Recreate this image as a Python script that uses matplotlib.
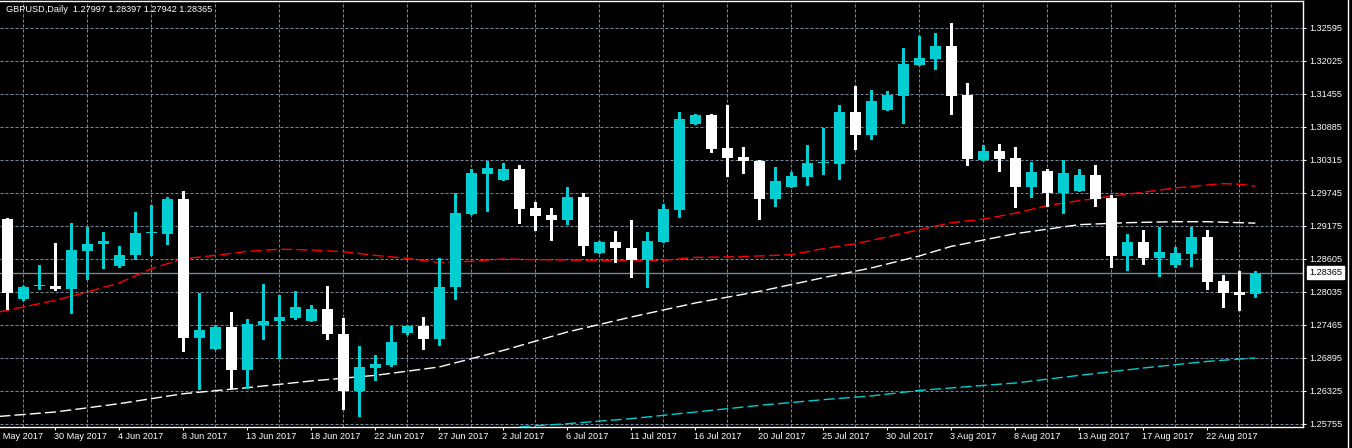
import matplotlib
matplotlib.use("Agg")
from matplotlib import pyplot as plt
from matplotlib.lines import Line2D
import matplotlib.transforms as mtransforms
import numpy as np
import pandas as pd

plt.rcParams['font.family'] = ['Liberation Sans', 'DejaVu Sans']
plt.rcParams['lines.scale_dashes'] = False

# GBPUSD daily bars, 26 May - 25 Aug 2017 (Sunday bars included, no Saturdays)
days = pd.date_range('2017-05-26', '2017-08-25')
dates = [d for d in days if d.dayofweek != 5]

opens = [1.29301, 1.27919, 1.28135, 1.28144, 1.28080, 1.28748, 1.28857, 1.28477, 1.28667, 1.29051,
         1.29042, 1.29647, 1.27246, 1.27056, 1.27436, 1.26681, 1.27470, 1.27527, 1.27591, 1.27539,
         1.27747, 1.27315, 1.26318, 1.26728, 1.26779, 1.27332, 1.27453, 1.27229, 1.28127, 1.29388,
         1.30079, 1.29975, 1.30165, 1.29491, 1.29370, 1.29284, 1.29681, 1.28714, 1.28904, 1.28800,
         1.28581, 1.28904, 1.29457, 1.30942, 1.31098, 1.30528, 1.30372, 1.30303, 1.29647, 1.29854,
         1.30027, 1.30262, 1.30251, 1.31149, 1.30752, 1.31184, 1.31426, 1.31961, 1.32065, 1.32289,
         1.31443, 1.30320, 1.30476, 1.30355, 1.29854, 1.30130, 1.29750, 1.29785, 1.30061, 1.29664,
         1.28662, 1.28904, 1.28628, 1.28507, 1.28697, 1.28990, 1.28230, 1.28040, 1.27997]
highs = [1.29319, 1.28144, 1.28507, 1.28887, 1.29232, 1.29158, 1.29077, 1.28823, 1.29422, 1.29538,
         1.29676, 1.29785, 1.28023, 1.27458, 1.27695, 1.27562, 1.28179, 1.27989, 1.28058, 1.27804,
         1.28144, 1.27591, 1.27108, 1.26940, 1.27453, 1.27462, 1.27609, 1.28628, 1.29745, 1.30160,
         1.30298, 1.30268, 1.30234, 1.29595, 1.29491, 1.29854, 1.29745, 1.28913, 1.29094, 1.29284,
         1.29077, 1.29560, 1.31149, 1.31106, 1.31115, 1.31270, 1.30545, 1.30320, 1.30199, 1.30113,
         1.30579, 1.30873, 1.31270, 1.31599, 1.31529, 1.31512, 1.32255, 1.32462, 1.32514, 1.32687,
         1.31650, 1.30579, 1.30597, 1.30545, 1.30286, 1.30165, 1.30320, 1.30165, 1.30234, 1.29716,
         1.29042, 1.29111, 1.29163, 1.28818, 1.29163, 1.29111, 1.28334, 1.28398, 1.28397]
lows = [1.27747, 1.27902, 1.28080, 1.28066, 1.27678, 1.28253, 1.28455, 1.28467, 1.28610, 1.28667,
        1.28869, 1.27009, 1.26353, 1.27047, 1.26382, 1.26382, 1.27229, 1.26900, 1.27574, 1.27531,
        1.27229, 1.26019, 1.25886, 1.26508, 1.26750, 1.27303, 1.27056, 1.27113, 1.27919, 1.29379,
        1.29439, 1.29966, 1.29232, 1.29111, 1.28926, 1.29215, 1.28667, 1.28705, 1.28546, 1.28287,
        1.28115, 1.28895, 1.29336, 1.30934, 1.30459, 1.30044, 1.30096, 1.29301, 1.29526, 1.29845,
        1.29889, 1.30079, 1.29992, 1.30510, 1.30683, 1.31175, 1.30959, 1.31953, 1.31892, 1.31115,
        1.30234, 1.30312, 1.30130, 1.29508, 1.29681, 1.29526, 1.29405, 1.29776, 1.29526, 1.28467,
        1.28408, 1.28524, 1.28305, 1.28467, 1.28489, 1.28092, 1.27781, 1.27729, 1.27942]
closes = [1.28023, 1.28127, 1.28144, 1.28080, 1.28766, 1.28869, 1.28909, 1.28679, 1.29059, 1.29068,
          1.29647, 1.27246, 1.27384, 1.27436, 1.26681, 1.27488, 1.27539, 1.27609, 1.27781, 1.27747,
          1.27303, 1.26318, 1.26745, 1.26797, 1.27177, 1.27453, 1.27229, 1.28127, 1.29405, 1.30096,
          1.30182, 1.30165, 1.29474, 1.29353, 1.29284, 1.29681, 1.28823, 1.28904, 1.28800, 1.28581,
          1.28921, 1.29474, 1.31029, 1.31098, 1.30510, 1.30355, 1.30303, 1.29647, 1.29958, 1.30044,
          1.30268, 1.30270, 1.31149, 1.30752, 1.31339, 1.31443, 1.31979, 1.32082, 1.32289, 1.31426,
          1.30338, 1.30476, 1.30338, 1.29854, 1.30113, 1.29750, 1.30096, 1.30061, 1.29647, 1.28662,
          1.28904, 1.28628, 1.28731, 1.28714, 1.28990, 1.28213, 1.28023, 1.27989, 1.28365]

# moving averages, read at a few bars
ma_red_x = [-0.5, 3, 5, 7, 9, 11, 13, 15, 17, 19, 21, 23, 25, 27, 29, 31, 33, 35, 37, 39,
            41, 43, 45, 47, 49, 51, 53, 54, 57, 59, 61, 63, 65, 67, 69, 71, 73, 75, 76, 77, 78]
ma_red = [1.27690, 1.27890, 1.28035, 1.28191, 1.28437, 1.28610, 1.28667, 1.28736, 1.28774, 1.28761,
          1.28731, 1.28667, 1.28615, 1.28541, 1.28564, 1.28605, 1.28593, 1.28588, 1.28576, 1.28571,
          1.28581, 1.28633, 1.28640, 1.28657, 1.28679, 1.28783, 1.28869, 1.28926, 1.29111, 1.29232,
          1.29293, 1.29396, 1.29526, 1.29612, 1.29690, 1.29759, 1.29832, 1.29883, 1.29906, 1.29897,
          1.29863]
ma_white_x = [-0.5, 3, 7, 11, 15, 19, 23, 27, 31, 35, 39, 43, 47, 51, 54, 57, 59, 63, 67, 70,
              73, 75, 77, 78]
ma_white = [1.25886, 1.25962, 1.26106, 1.26278, 1.26382, 1.26498, 1.26595, 1.26740, 1.27026, 1.27344,
            1.27603, 1.27845, 1.28045, 1.28282, 1.28450, 1.28657, 1.28823, 1.29042, 1.29198, 1.29232,
            1.29249, 1.29249, 1.29232, 1.29224]
ma_cyan_x = [32, 35, 39, 43, 47, 51, 54, 57, 63, 67, 71, 75, 78]
ma_cyan = [1.25705, 1.25760, 1.25847, 1.25962, 1.26076, 1.26175, 1.26239, 1.26335, 1.26463, 1.26595,
           1.26722, 1.26836, 1.26895]

price_ticks = [1.25755 + 0.0057 * k for k in range(13)]
last_price = 1.28365
title = "GBPUSD,Daily  1.27997 1.28397 1.27942 1.28365"

BULL = '#00CED1'
BEAR = '#FFFFFF'
GRID = '#778899'
FS = 6.6

W, H = 1352, 448
fig = plt.figure(figsize=(W / 100, H / 100), dpi=100, facecolor='black')
ax = fig.add_axes([0, 21.3 / H, 1303.3 / W, (446.7 - 21.3) / H])
ax.set_facecolor('black')

x = np.arange(len(opens))
o = np.array(opens); c = np.array(closes)
hi = np.array(highs); lo = np.array(lows)
up = c >= o
colors = np.where(up, BULL, BEAR)

ax.vlines(x, lo, hi, colors=colors, lw=1.0, zorder=4, antialiased=False)
body = np.maximum(np.abs(c - o), 0.00017)
ax.bar(x, body, bottom=np.minimum(o, c), width=0.69, color=colors, lw=0, zorder=5, antialiased=False)

ax.plot(ma_red_x, ma_red, color='#FF0000', lw=1.0, dashes=(8, 3), zorder=3)
ax.plot(ma_white_x, ma_white, color='#FFFFFF', lw=1.0, dashes=(8, 3), zorder=3)
ax.plot(ma_cyan_x, ma_cyan, color=BULL, lw=1.0, dashes=(8, 3), zorder=3)

ax.axhline(last_price, color=GRID, lw=1.0, zorder=2)

ax.set_xlim(-7.3 / 16, (1303.3 - 7.3) / 16)
ax.set_ylim(1.25708, 1.33056)

# grid
ax.set_yticks(price_ticks)
ax.set_yticklabels(['%.5f' % p for p in price_ticks])
ax.set_xticks(np.arange(1, 81, 2), minor=True)
lab_idx = [i for i in range(-1, len(dates), 4) if i >= 0]
ax.set_xticks(lab_idx)
ax.set_xticklabels([])
ax.grid(True, which='minor', axis='x', color=GRID, lw=0.75, dashes=(2.2, 1.4), zorder=1)
ax.grid(True, which='major', axis='y', color=GRID, lw=0.75, dashes=(2.2, 1.4), zorder=1)
ax.set_axisbelow(True)

ax.yaxis.tick_right()
ax.tick_params(axis='y', which='major', colors='white', labelcolor='white', labelsize=FS,
               length=2.5, width=0.75, pad=2)
ax.tick_params(axis='x', which='major', colors='white', length=2.5, width=0.75)
ax.tick_params(axis='x', which='minor', length=0)

for s in ['top', 'right', 'bottom']:
    ax.spines[s].set_color('white')
    ax.spines[s].set_linewidth(1.0)
ax.spines['left'].set_visible(False)

# date labels, every 4 bars
tr = mtransforms.blended_transform_factory(ax.transData, ax.transAxes)
first = dates[0] - pd.Timedelta(days=1)
labels = [(-1, first)] + [(i, dates[i]) for i in lab_idx]
for i, d in labels:
    ax.text(i - 0.05, -0.024, f"{d.day} {d:%b %Y}", transform=tr, ha='left', va='center',
            color='white', fontsize=FS, clip_on=False)

# current price box
tr2 = mtransforms.blended_transform_factory(ax.transAxes, ax.transData)
ax.text(1.0045, last_price, '%.5f' % last_price, transform=tr2, ha='left', va='center',
        color='black', fontsize=FS, clip_on=False, zorder=10,
        bbox=dict(boxstyle='square,pad=0.22', facecolor='white', edgecolor='white'))

fig.text(6 / W, 1 - 10 / H, title, color='white', fontsize=FS, ha='left', va='center')
fig.add_artist(Line2D([1347.5 / W, 1347.5 / W], [0, 1], color='white', lw=1.0))

fig.savefig('out.png', dpi=100, facecolor='black')
